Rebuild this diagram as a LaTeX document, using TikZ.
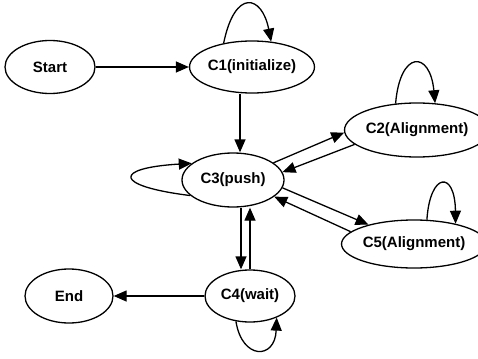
\documentclass[tikz,border=0pt]{standalone}
\usepackage{fontspec}
\setmainfont{Liberation Sans}
\usetikzlibrary{shapes.geometric,arrows.meta}
\tikzset{
  st/.style={draw,ellipse,line width=1.3pt,inner sep=0pt,font=\fontsize{15}{18}\selectfont\bfseries},
  arr/.style={line width=1.3pt,-{Triangle[length=13pt,width=11pt]}},
}
\begin{document}
\begin{tikzpicture}[x=1pt,y=-1pt]
\useasboundingbox (0,0) rectangle (478,358);
\node[st,minimum width=90pt,minimum height=53pt] (start) at (50,67) {Start};
\node[st,minimum width=124pt,minimum height=52pt] (c1) at (252,67) {C1(initialize)};
\node[st,minimum width=120pt,minimum height=54pt] (c2) at (417,130) {C2(Alignment)};
\node[st,minimum width=102pt,minimum height=54pt] (c3) at (233,180) {C3(push)};
\node[st,minimum width=122pt,minimum height=48pt] (c5) at (414,244) {C5(Alignment)};
\node[st,minimum width=90pt,minimum height=52pt] (c4) at (250,296) {C4(wait)};
\node[st,minimum width=88pt,minimum height=54pt] (end) at (69,296) {End};

\draw[arr] (start.east) -- (c1.west);
\draw[arr] ([xshift=-12pt]c1.south) -- ([xshift=-12pt]c1.south |- c3.north);
\draw[arr] (c3.23) -- (c2.182);
\draw[arr] (c2.193) -- (c3.9);
\draw[arr] (c3.351) -- (c5.157);
\draw[arr] (c5.169) -- (c3.338);
\draw[arr] ([xshift=8pt]c3.south) -- ([xshift=8pt]c3.south |- c4.north);
\draw[arr] (c4.north) -- (c4.north |- c3.south);
\draw[arr] (c4.west) -- (end.east);

% self loops
\draw[arr] (c1.140) .. controls (235,-12) and (262,-5) .. (c1.53);
\draw[arr] (c2.129) .. controls (400,50) and (430,50) .. (c2.56);
\draw[arr] (c5.62) .. controls (430,172) and (455,170) .. (c5.26);
\draw[arr] (c3.200) .. controls (113,186) and (113,168) .. (c3.158);
\draw[arr] (c4.241) .. controls (242,360) and (275,360) .. (c4.321);
\end{tikzpicture}
\end{document}
